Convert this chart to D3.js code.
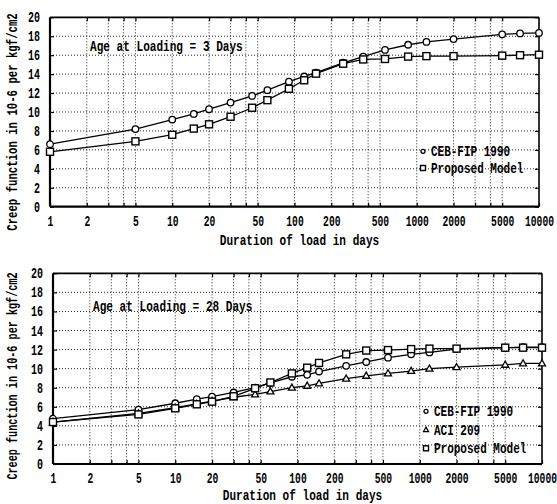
<!DOCTYPE html>
<html>
<head>
<meta charset="utf-8">
<script src="https://cdn.jsdelivr.net/npm/d3@7"></script>
<style>
  body { margin: 0; background: #fff; }
  svg text { font-family: "Liberation Mono", "DejaVu Sans Mono", monospace; fill: #000; font-weight: bold; }
</style>
</head>
<body>
<svg width="557" height="504"></svg>
<script>

// duration of load (days) shared by all curves
var days = [1, 5, 10, 15, 20, 30, 45, 60, 90, 120, 150, 250, 365, 550, 850, 1200, 2000, 5000, 7000, 10000];

// age at loading = 3 days
var cebFip3   = [6.6, 8.2, 9.2, 9.8, 10.3, 11.0, 11.7, 12.3, 13.2, 13.75, 14.15, 15.2, 15.85, 16.55, 17.1, 17.4, 17.7, 18.2, 18.3, 18.35];
var proposed3 = [5.8, 6.9, 7.6, 8.25, 8.7, 9.5, 10.45, 11.25, 12.45, 13.35, 14.05, 15.1, 15.55, 15.6, 15.85, 15.9, 15.9, 15.95, 16.0, 16.05];

// age at loading = 28 days
var cebFip28   = [4.75, 5.7, 6.37, 6.8, 7.06, 7.5, 8.0, 8.5, 9.15, 9.35, 9.7, 10.3, 10.7, 11.15, 11.5, 11.7, 12.05, 12.2, 12.25, 12.25];
var aci28      = [4.4, 5.3, 5.9, 6.3, 6.6, 7.0, 7.3, 7.6, 8.0, 8.2, 8.45, 8.95, 9.25, 9.5, 9.75, 10.0, 10.15, 10.4, 10.55, 10.55];
var proposed28 = [4.4, 5.2, 5.84, 6.26, 6.54, 7.1, 7.94, 8.55, 9.5, 10.1, 10.6, 11.5, 11.9, 11.95, 12.05, 12.1, 12.1, 12.2, 12.2, 12.2];

// axis ticks
var xLabelValues = [1, 2, 5, 10, 20, 50, 100, 200, 500, 1000, 2000, 5000, 10000];
var xGridValues = [2, 3, 4, 5, 10, 20, 30, 40, 50, 100, 200, 300, 400, 500, 1000, 2000, 3000, 4000, 5000];
var yTickValues = [0, 2, 4, 6, 8, 10, 12, 14, 16, 18, 20];

var svg = d3.select("svg");
var FS = 14, ADV = FS * 0.6;   // monospace advance at 14px

// squeeze monospace text horizontally to the narrow look of the original
function squeeze(sel, cw) {
  var k = cw / ADV;
  sel.each(function() {
    var t = d3.select(this);
    var x0 = +t.attr("x") || 0;
    var prev = t.attr("transform") || "";
    if (prev) t.attr("transform", prev + " scale(" + k + ",1)");
    else t.attr("transform", "translate(" + x0 + ",0) scale(" + k + ",1) translate(" + (-x0) + ",0)");
  });
}

function marker(g, shape, x, y, s) {
  if (shape == "circle") {
    g.append("circle").attr("cx", x).attr("cy", y).attr("r", s / 2)
      .attr("fill", "#fff").attr("stroke", "#000").attr("stroke-width", 1.3);
  } else if (shape == "square") {
    g.append("rect").attr("x", x - s / 2).attr("y", y - s / 2).attr("width", s).attr("height", s)
      .attr("fill", "#fff").attr("stroke", "#000").attr("stroke-width", 1.4);
  } else {
    var h = s * 0.87;
    g.append("path")
      .attr("d", "M" + x + "," + (y - h * 0.6) + "L" + (x + s / 2) + "," + (y + h * 0.4) + "L" + (x - s / 2) + "," + (y + h * 0.4) + "Z")
      .attr("fill", "#fff").attr("stroke", "#000").attr("stroke-width", 1.3);
  }
}

function panel(p) {
  var w = p.right - p.left, h = p.bottom - p.top;
  var g = svg.append("g").attr("transform", "translate(" + p.left + "," + p.top + ")");

  var x = d3.scaleLog().domain([1, 10000]).range([0, w]);
  var y = d3.scaleLinear().domain([0, 20]).range([h, 0]);

  // dotted grid
  g.selectAll(".vgrid").data(xGridValues).enter().append("line")
    .attr("x1", function(d) { return x(d); }).attr("x2", function(d) { return x(d); })
    .attr("y1", 0).attr("y2", h)
    .attr("stroke", "#222").attr("stroke-width", 1).attr("stroke-dasharray", "1,2");
  g.selectAll(".hgrid").data(yTickValues.slice(1, -1)).enter().append("line")
    .attr("x1", 0).attr("x2", w)
    .attr("y1", function(d) { return y(d); }).attr("y2", function(d) { return y(d); })
    .attr("stroke", "#222").attr("stroke-width", 1).attr("stroke-dasharray", "1,2");

  // axes with inward ticks
  var bottomAxis = g.append("g").attr("transform", "translate(0," + h + ")")
    .call(d3.axisBottom(x).tickValues(xGridValues.concat([1, 10000]))
      .tickSizeInner(-4).tickSizeOuter(0).tickPadding(9)
      .tickFormat(function(d) { return xLabelValues.indexOf(d) >= 0 ? d : ""; }));
  bottomAxis.selectAll("text").style("font-size", FS + "px");
  squeeze(bottomAxis.selectAll("text"), 5.8);

  var leftAxis = g.append("g")
    .call(d3.axisLeft(y).tickValues(yTickValues).tickSizeInner(-4).tickSizeOuter(0).tickPadding(10));
  leftAxis.selectAll("text").style("font-size", FS + "px");
  squeeze(leftAxis.selectAll("text"), 6.0);

  g.append("g").call(d3.axisTop(x).tickValues(xGridValues).tickSizeInner(-4).tickSizeOuter(0).tickFormat(""));
  g.append("g").attr("transform", "translate(" + w + ",0)")
    .call(d3.axisRight(y).tickValues(yTickValues).tickSizeInner(-4).tickSizeOuter(0).tickFormat(""));
  g.selectAll(".domain").remove();
  g.selectAll(".tick line").attr("stroke", "#000").attr("stroke-width", 1.2);

  // frame
  g.append("line").attr("x1", 0).attr("x2", w).attr("y1", 0).attr("y2", 0).attr("stroke", "#000").attr("stroke-width", 1.8);
  g.append("line").attr("x1", w).attr("x2", w).attr("y1", 0).attr("y2", h).attr("stroke", "#000").attr("stroke-width", 1.6);
  g.append("line").attr("x1", 0).attr("x2", w).attr("y1", h).attr("y2", h).attr("stroke", "#000").attr("stroke-width", 2.2);
  g.append("line").attr("x1", 0).attr("x2", 0).attr("y1", 0).attr("y2", h).attr("stroke", "#000").attr("stroke-width", 2.2);

  var line = d3.line()
    .x(function(d) { return x(d[0]); })
    .y(function(d) { return y(d[1]); });

  p.series.forEach(function(s) {
    var pts = days.map(function(d, i) { return [d, s.values[i]]; });
    g.append("path").datum(pts).attr("d", line)
      .attr("fill", "none").attr("stroke", "#000").attr("stroke-width", 1.3);
  });
  p.series.forEach(function(s) {
    var mg = g.append("g");
    days.forEach(function(d, i) {
      marker(mg, s.shape, x(d), y(s.values[i]), s.shape == "circle" ? 6.5 : 7);
    });
  });

  // title inside plot
  var t = g.append("text").attr("x", p.titleX).attr("y", p.titleY)
    .style("font-size", FS + "px").text(p.title);
  squeeze(t, 6.65);

  // legend
  p.series.forEach(function(s, i) {
    var ly = p.legendY + i * p.legendStep;
    marker(g, s.shape, p.legendX, ly, s.shape == "circle" ? 4 : 5);
    var lt = g.append("text").attr("x", p.legendX + 8).attr("y", ly).attr("dy", "0.35em")
      .style("font-size", FS + "px").text(s.name);
    squeeze(lt, 6.6);
  });

  // axis titles
  var xt = svg.append("text").attr("x", p.left + w / 2 + 5).attr("y", p.xTitleY)
    .attr("text-anchor", "middle").attr("dy", "0.35em").style("font-size", FS + "px")
    .text("Duration of load in days");
  squeeze(xt, 6.65);

  var yt = svg.append("text")
    .attr("transform", "translate(12," + p.yTitleCenter + ") rotate(-90)")
    .attr("text-anchor", "middle").attr("dy", "0.35em").style("font-size", FS + "px")
    .text("Creep function in 10-6 per kgf/cm2");
  squeeze(yt, p.yTitleCw);
}

panel({
  left: 50, right: 539, top: 17.3, bottom: 206.7,
  title: "Age at Loading = 3 Days", titleX: 40, titleY: 34,
  legendX: 373, legendY: 134, legendStep: 16.7,
  xTitleY: 240, yTitleCenter: 122, yTitleCw: 6.4,
  series: [
    { name: "CEB-FIP 1990", shape: "circle", values: cebFip3 },
    { name: "Proposed Model", shape: "square", values: proposed3 }
  ]
});

panel({
  left: 53, right: 542, top: 273.3, bottom: 464,
  title: "Age at Loading = 28 Days", titleX: 40, titleY: 38,
  legendX: 373, legendY: 138, legendStep: 18.5,
  xTitleY: 495, yTitleCenter: 376, yTitleCw: 6.1,
  series: [
    { name: "CEB-FIP 1990", shape: "circle", values: cebFip28 },
    { name: "ACI 209", shape: "triangle", values: aci28 },
    { name: "Proposed Model", shape: "square", values: proposed28 }
  ]
});

</script>
</body>
</html>
